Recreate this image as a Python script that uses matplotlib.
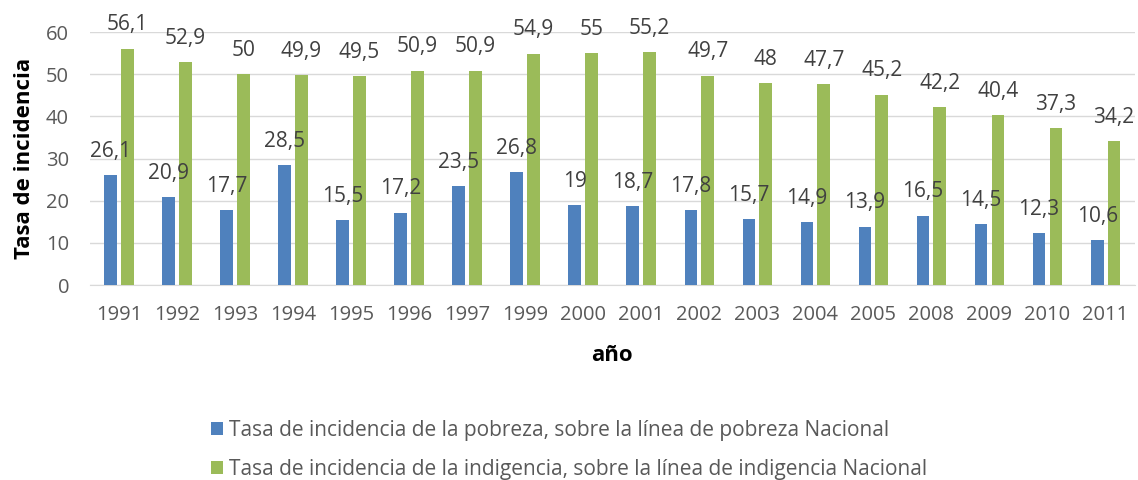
import matplotlib
matplotlib.use("Agg")
import matplotlib.pyplot as plt
import numpy as np

years = ["1991", "1992", "1993", "1994", "1995", "1996", "1997", "1999", "2000",
         "2001", "2002", "2003", "2004", "2005", "2008", "2009", "2010", "2011"]
pobreza = [26.1, 20.9, 17.7, 28.5, 15.5, 17.2, 23.5, 26.8, 19, 18.7, 17.8, 15.7,
           14.9, 13.9, 16.5, 14.5, 12.3, 10.6]
indigencia = [56.1, 52.9, 50, 49.9, 49.5, 50.9, 50.9, 54.9, 55, 55.2, 49.7, 48,
              47.7, 45.2, 42.2, 40.4, 37.3, 34.2]
yticks = [0, 10, 20, 30, 40, 50, 60]
label_pob = "Tasa de incidencia de la pobreza, sobre la línea de pobreza Nacional"
label_ind = "Tasa de incidencia de la indigencia, sobre la línea de indigencia Nacional"

plt.rcParams['font.family'] = ['Open Sans', 'DejaVu Sans']

fig = plt.figure(figsize=(11.38, 4.8), dpi=100)
ax = fig.add_axes([0.079, 0.406, 0.918, 0.527])

x = np.arange(len(years))
w = 0.22
blue = "#4F81BD"
green = "#9BBB59"
b1 = ax.bar(x - 0.145, pobreza, w, color=blue, label=label_pob, zorder=3)
b2 = ax.bar(x + 0.145, indigencia, w, color=green, label=label_ind, zorder=3)

def fmt(v):
    return ("%g" % v).replace(".", ",")

for bars, vals in ((b1, pobreza), (b2, indigencia)):
    for r, v in zip(bars, vals):
        ax.annotate(fmt(v), (r.get_x() + r.get_width() / 2, v), xytext=(0, 9.5),
                    textcoords="offset points", ha="center", va="bottom",
                    fontsize=15, color="#404040", annotation_clip=False)

ax.set_xlim(-0.5, len(years) - 0.5)
ax.set_ylim(0, 60)
ax.set_yticks(yticks)
ax.set_xticks(x)
ax.set_xticklabels(years)
ax.tick_params(axis='both', length=0, labelsize=14.5, colors="#595959")
ax.tick_params(axis='x', pad=14)
ax.tick_params(axis='y', pad=15)
ax.grid(axis='y', color="#D9D9D9", linewidth=1, zorder=0)
for s in ax.spines.values():
    s.set_visible(False)
ax.spines['bottom'].set_visible(True)
ax.spines['bottom'].set_color("#D9D9D9")

ax.set_ylabel("Tasa de incidencia", fontsize=16, fontweight='bold', color="black", labelpad=8)
ax.set_xlabel("año", fontsize=16, fontweight='bold', color="black", labelpad=15)

leg = fig.legend(handles=[b1, b2], loc='center', bbox_to_anchor=(0.5, 0.063),
                 ncol=1, frameon=False, fontsize=15, labelcolor="#595959",
                 handlelength=0.55, handleheight=0.55, handletextpad=0.3,
                 labelspacing=0.85, alignment='left')

fig.savefig("out.png", dpi=100)
